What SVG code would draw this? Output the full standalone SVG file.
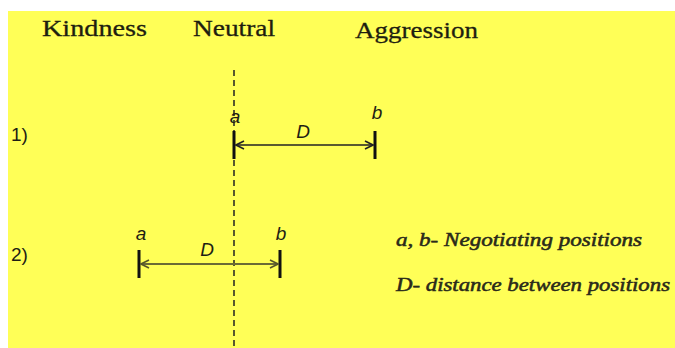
<svg xmlns="http://www.w3.org/2000/svg" width="675" height="348" viewBox="0 0 675 348">
<defs>
<style>
.hdr{font-family:"Liberation Serif","Times New Roman",serif;font-size:24px;fill:#1e1e10;stroke:#1e1e10;stroke-width:0.3}
.num{font-family:"Liberation Sans",Arial,sans-serif;font-size:19px;fill:#1e1e14}
.lbl{font-family:"Liberation Sans",Arial,sans-serif;font-size:19px;font-style:italic;fill:#1e1e14}
.leg{font-family:"Liberation Serif","Times New Roman",serif;font-size:18px;font-style:italic;fill:#2a2a1a;stroke:#2a2a1a;stroke-width:0.5}
.bar{stroke:#111;stroke-width:3}
</style>
<marker id="ah1" viewBox="0 0 10 10" refX="9" refY="5" markerWidth="10" markerHeight="10" markerUnits="userSpaceOnUse" orient="auto-start-reverse">
<path d="M1,1 L9,5 L1,9" fill="none" stroke="#222" stroke-width="1.6"/>
</marker>
<marker id="ah2" viewBox="0 0 10 10" refX="9" refY="5" markerWidth="10" markerHeight="10" markerUnits="userSpaceOnUse" orient="auto-start-reverse">
<path d="M1,1 L9,5 L1,9" fill="none" stroke="#55552a" stroke-width="1.6"/>
</marker>
</defs>
<rect x="0" y="0" width="675" height="348" fill="#ffffff"/>
<rect x="8" y="11" width="667" height="337" fill="#ffff57"/>
<g id="headers">
<text class="hdr" x="42" y="36" textLength="105" lengthAdjust="spacingAndGlyphs">Kindness</text>
<text class="hdr" x="193" y="36" textLength="82" lengthAdjust="spacingAndGlyphs">Neutral</text>
<text class="hdr" x="355" y="38" textLength="123" lengthAdjust="spacingAndGlyphs">Aggression</text>
</g>
<g id="neutral-line">
<line x1="234" y1="70" x2="234" y2="348" stroke="#222" stroke-width="1.5" stroke-dasharray="6,4"/>
</g>
<g id="row1">
<text class="num" x="11" y="141">1)</text>
<line class="bar" x1="234" y1="131" x2="234" y2="159"/>
<line class="bar" x1="375" y1="131" x2="375" y2="159"/>
<text class="lbl" x="235" y="123" text-anchor="middle">a</text>
<text class="lbl" x="377" y="119" text-anchor="middle">b</text>
<text class="lbl" x="303" y="138" text-anchor="middle">D</text>
</g>
<g id="row2">
<text class="num" x="11" y="261">2)</text>
<line class="bar" x1="139" y1="250" x2="139" y2="278"/>
<line class="bar" x1="280" y1="250" x2="280" y2="278"/>
<text class="lbl" x="141" y="240" text-anchor="middle">a</text>
<text class="lbl" x="281" y="240" text-anchor="middle">b</text>
<text class="lbl" x="207" y="256" text-anchor="middle">D</text>
</g>
<g id="legend">
<text class="leg" x="396" y="246" textLength="246" lengthAdjust="spacingAndGlyphs">a, b-  Negotiating positions</text>
<text class="leg" x="396" y="291" textLength="274" lengthAdjust="spacingAndGlyphs">D- distance between positions</text>
</g>
<g id="connectors">
<line x1="236" y1="145" x2="373" y2="145" stroke="#222" stroke-width="1.6" marker-start="url(#ah1)" marker-end="url(#ah1)"/>
<line x1="141" y1="264" x2="278" y2="264" stroke="#6b6b35" stroke-width="1.8" marker-start="url(#ah2)" marker-end="url(#ah2)"/>
</g>
</svg>
